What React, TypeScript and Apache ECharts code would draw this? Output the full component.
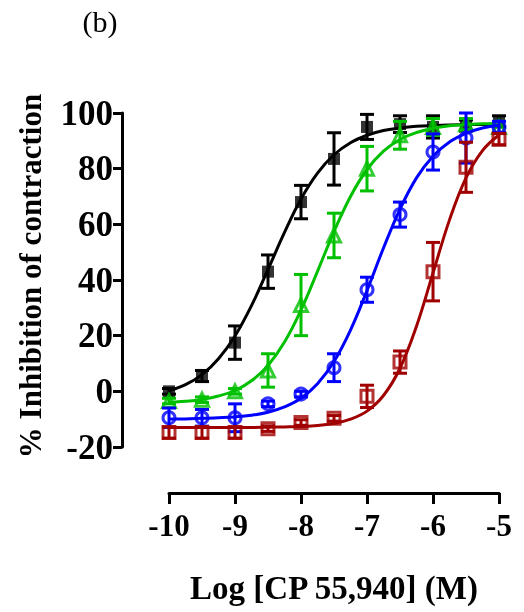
import React, { useEffect, useRef } from "react";
import * as echarts from "echarts";

// Log concentration of CP 55,940 (M)
const X_VALUES = [-10, -9.5, -9, -8.5, -8, -7.5, -7, -6.5, -6, -5.5, -5];

// Mean % inhibition of contraction and SEM for each series
const BLACK_VALUES = [0, 5.5, 17.5, 43, 68, 83.5, 95, 96, 95, 95.5, 97];
const BLACK_ERRORS = [1, 2, 6, 6, 6, 9.4, 4.5, 3, 4, 2, 2];
const GREEN_VALUES = [-3.5, -3, 0, 7.5, 31, 56, 80, 92, 95, 96, 95];
const GREEN_ERRORS = [1, 1, 1, 6, 11, 8, 8, 5, 3, 2, 2];
const BLUE_VALUES = [-9.5, -9.5, -9.5, -4.5, -1, 8.5, 36.5, 63.5, 86, 91, 95];
const BLUE_ERRORS = [3.5, 3, 5, 1, 1, 5, 4.5, 4.5, 6.5, 9, 2];
const RED_VALUES = [-14.8, -14.8, -14.8, -13.4, -11.2, -9.7, -1.8, 10.5, 43, 80.5, 90.6];
const RED_ERRORS = [2, 2, 2, 1, 1, 1, 4, 4, 10.5, 9, 2];

// Fitted curves at 0.25 log-unit steps
const CURVE_X = [-10, -9.75, -9.5, -9.25, -9, -8.75, -8.5, -8.25, -8, -7.75, -7.5, -7.25, -7, -6.75, -6.5, -6.25, -6, -5.75, -5.5, -5.25, -5];
const BLACK_CURVE = [0.2, 2.4, 6.0, 11.7, 19.9, 30.8, 43.8, 57.1, 69.1, 78.4, 85.0, 89.3, 92.0, 93.7, 94.6, 95.2, 95.5, 95.7, 95.8, 95.9, 95.9];
const GREEN_CURVE = [-4.0, -3.6, -2.9, -1.7, 0.3, 3.8, 9.3, 17.7, 29.2, 43.1, 57.4, 70.0, 79.7, 86.3, 90.5, 93.0, 94.5, 95.4, 95.9, 96.1, 96.3];
const BLUE_CURVE = [-9.9, -9.9, -9.7, -9.5, -9.2, -8.6, -7.5, -5.6, -2.5, 2.7, 10.7, 22.0, 36.2, 51.5, 65.5, 76.7, 84.5, 89.6, 92.7, 94.6, 95.6];
const RED_CURVE = [-13.0, -13.0, -13.0, -13.0, -13.0, -13.0, -12.9, -12.8, -12.65, -12.3, -11.5, -10.0, -7.1, -1.5, 8.3, 23.4, 42.5, 61.6, 76.7, 86.5, 92.1];

const X_TITLE = "Log [CP 55,940] (M)";
const Y_TITLE = "% Inhibition of contraction";
const PANEL_LABEL = "(b)";

const FONT = "'Liberation Serif', 'Times New Roman', Times, serif";

type DS = {
  color: string;
  values: number[];
  errors: number[];
  curve: number[];
  symbol: string;
  size: number;
  filled: boolean;
};

const DATASETS: DS[] = [
  { color: "#000000", values: BLACK_VALUES, errors: BLACK_ERRORS, curve: BLACK_CURVE, symbol: "rect", size: 12, filled: true },
  { color: "#00C000", values: GREEN_VALUES, errors: GREEN_ERRORS, curve: GREEN_CURVE, symbol: "triangle", size: 13, filled: false },
  { color: "#0000FF", values: BLUE_VALUES, errors: BLUE_ERRORS, curve: BLUE_CURVE, symbol: "circle", size: 12, filled: false },
  { color: "#A00000", values: RED_VALUES, errors: RED_ERRORS, curve: RED_CURVE, symbol: "rect", size: 12, filled: false },
];

export default function App() {
  const ref = useRef<HTMLDivElement>(null);

  useEffect(() => {
    if (!ref.current) return;
    const chart = echarts.init(ref.current, null, { renderer: "svg" });

    const series: any[] = [];
    DATASETS.forEach((ds, i) => {
      series.push({
        type: "line",
        data: CURVE_X.map((x, k) => [x, ds.curve[k]]),
        smooth: 0.4,
        showSymbol: false,
        symbol: "none",
        lineStyle: { color: ds.color, width: 3 },
        z: 2 + i * 3,
        silent: true,
      });
      series.push({
        type: "custom",
        data: X_VALUES.map((x, k) => [x, ds.values[k], ds.errors[k]]),
        z: 3 + i * 3,
        silent: true,
        renderItem: (params: any, api: any) => {
          const x = api.value(0);
          const y = api.value(1);
          const e = api.value(2);
          const top = api.coord([x, y + e]);
          const bot = api.coord([x, y - e]);
          const hw = 7;
          const style = { stroke: ds.color, lineWidth: 3 };
          return {
            type: "group",
            children: [
              { type: "line", shape: { x1: top[0], y1: top[1], x2: bot[0], y2: bot[1] }, style },
              { type: "line", shape: { x1: top[0] - hw, y1: top[1], x2: top[0] + hw, y2: top[1] }, style },
              { type: "line", shape: { x1: bot[0] - hw, y1: bot[1], x2: bot[0] + hw, y2: bot[1] }, style },
            ],
          };
        },
      });
      series.push({
        type: "scatter",
        data: X_VALUES.map((x, k) => [x, ds.values[k]]),
        symbol: ds.symbol,
        symbolSize: ds.size,
        z: 4 + i * 3,
        silent: true,
        itemStyle: ds.filled
          ? { color: ds.color }
          : { color: "rgba(255,255,255,0)", borderColor: ds.color, borderWidth: 3 },
      });
    });

    const option: any = {
      animation: false,
      grid: {
        left: 169,
        right: 25,
        top: 113,
        bottom: 165,
        containLabel: false,
        outerBoundsMode: "none",
      },
      xAxis: {
        type: "value",
        min: -10,
        max: -5,
        interval: 1,
        offset: 46,
        axisLine: { show: true, onZero: false, lineStyle: { color: "#000", width: 3 } },
        axisTick: { show: true, inside: false, length: 11, lineStyle: { color: "#000", width: 3 } },
        axisLabel: {
          color: "#000",
          fontFamily: FONT,
          fontWeight: "bold",
          fontSize: 31,
          margin: 17,
        },
        splitLine: { show: false },
      },
      yAxis: {
        type: "value",
        min: -20,
        max: 100,
        interval: 20,
        offset: 47,
        axisLine: { show: true, onZero: false, lineStyle: { color: "#000", width: 3 } },
        axisTick: { show: true, inside: false, length: 9, lineStyle: { color: "#000", width: 3 } },
        axisLabel: {
          color: "#000",
          fontFamily: FONT,
          fontWeight: "bold",
          fontSize: 35,
          margin: 9,
        },
        splitLine: { show: false },
      },
      graphic: [
        {
          type: "text",
          x: 100,
          y: 21,
          style: {
            text: PANEL_LABEL,
            fontFamily: FONT,
            fontSize: 30,
            fill: "#000",
            textAlign: "center",
            textVerticalAlign: "middle",
          },
        },
        {
          type: "text",
          x: 30,
          y: 276,
          rotation: Math.PI / 2,
          style: {
            text: Y_TITLE,
            fontFamily: FONT,
            fontWeight: "bold",
            fontSize: 31,
            fill: "#000",
            textAlign: "center",
            textVerticalAlign: "middle",
          },
        },
        {
          type: "text",
          x: 334,
          y: 588,
          style: {
            text: X_TITLE,
            fontFamily: FONT,
            fontWeight: "bold",
            fontSize: 33,
            fill: "#000",
            textAlign: "center",
            textVerticalAlign: "middle",
          },
        },
      ],
      series,
    };

    chart.setOption(option);
    return () => chart.dispose();
  }, []);

  return (
    <div
      ref={ref}
      style={{ position: "fixed", left: 0, top: 0, width: 524, height: 612 }}
    />
  );
}
